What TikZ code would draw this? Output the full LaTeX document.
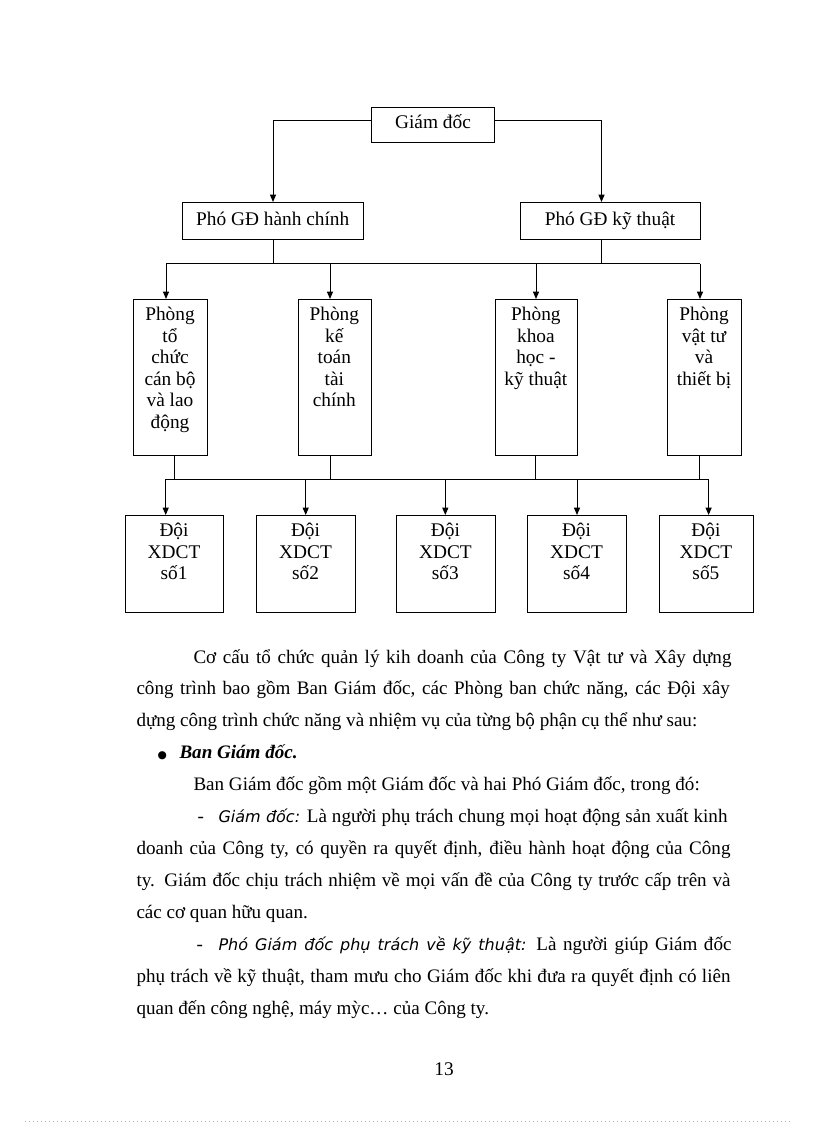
\documentclass[tikz,border=0pt]{standalone}
\usepackage{fontspec}
\setmainfont{Liberation Serif}
\newfontfamily\sansit{DejaVu Sans}
\usetikzlibrary{arrows.meta}
\begin{document}
\begin{tikzpicture}[x=0.75pt,y=-0.75pt,line width=0.75pt,
  box/.style={draw,inner sep=0pt,anchor=north west},
  arr/.style={-{Triangle[length=5.5pt,width=4.5pt]}},
  lbl/.style={font=\fontsize{14.5}{16}\selectfont,inner sep=0pt,anchor=base},
  body/.style={font=\fontsize{14.3}{16}\selectfont,inner sep=0pt,anchor=base west}]
\useasboundingbox (0,0) rectangle (816,1123);

% ---- chart boxes ----
\node[box,minimum width=92.25pt,minimum height=26.25pt] (gd) at (371,107) {};
\node[lbl] (gdt) at (433,129) {Giám đốc};
\node[box,minimum width=135.75pt,minimum height=27.75pt] (pgd1) at (182,202) {};
\node[lbl] (pgd1t) at (272.7,226) {Phó GĐ hành chính};
\node[box,minimum width=135pt,minimum height=27.75pt] (pgd2) at (520,202) {};
\node[lbl] (pgd2t) at (610,226) {Phó GĐ kỹ thuật};

\node[box,minimum width=55.5pt,minimum height=117pt] (p1) at (133,299) {};
\node[box,minimum width=55pt,minimum height=117pt] (p2) at (297.6,299) {};
\node[box,minimum width=61.7pt,minimum height=117pt] (p3) at (494.7,299) {};
\node[box,minimum width=55.5pt,minimum height=117pt] (p4) at (667,299) {};

\foreach \t [count=\i] in {Phòng,tổ,chức,cán bộ,và lao,động}
  \node[lbl] (pa\i) at (170,{320.7+21.5*(\i-1)}) {\t};
\foreach \t [count=\i] in {Phòng,kế,toán,tài,chính}
  \node[lbl] (pb\i) at (334.3,{320.7+21.5*(\i-1)}) {\t};
\foreach \t [count=\i] in {Phòng,khoa,học -,kỹ thuật}
  \node[lbl] (pc\i) at (535.9,{320.7+21.5*(\i-1)}) {\t};
\foreach \t [count=\i] in {Phòng,vật tư,và,thiết bị}
  \node[lbl] (pd\i) at (704,{320.7+21.5*(\i-1)}) {\t};

\node[box,minimum width=73.5pt,minimum height=72.5pt] (d1) at (125,515) {};
\node[box,minimum width=74.25pt,minimum height=72.5pt] (d2) at (256,515) {};
\node[box,minimum width=74pt,minimum height=72.5pt] (d3) at (396,515) {};
\node[box,minimum width=74.25pt,minimum height=72.5pt] (d4) at (527,515) {};
\node[box,minimum width=70.3pt,minimum height=72.5pt] (d5) at (659,515) {};
\foreach \n/\cx in {1/174,2/305.5,3/445.4,4/576.5,5/705.9}{
  \node[lbl] (da\n) at (\cx,536.7) {Đội};
  \node[lbl] (db\n) at (\cx,558) {XDCT};
  \node[lbl] (dc\n) at (\cx,579.3) {số\n};
}

% ---- connectors ----
\draw[arr] ([yshift=3.5pt]gd.west) -| (pgd1.north);
\draw[arr] ([yshift=3.5pt]gd.east) -| ([xshift=-6.75pt]pgd2.north);

\coordinate (t1) at (166,263.7);
\coordinate (t2) at (330,263.7);
\coordinate (t3) at (536,263.7);
\coordinate (t4) at (700,263.7);
\draw (t1) -- (t4);
\draw (pgd1.south) -- (pgd1.south |- t1);
\draw ([xshift=-6.75pt]pgd2.south) -- ([xshift=-6.75pt]pgd2.south |- t1);
\draw[arr] (t1) -- (t1 |- p1.north);
\draw[arr] (t2) -- (t2 |- p2.north);
\draw[arr] (t3) -- (t3 |- p3.north);
\draw[arr] (t4) -- (t4 |- p4.north);

\coordinate (u1) at (174,479.3);
\coordinate (u2) at (330,479.3);
\coordinate (u3) at (535.5,479.3);
\coordinate (u4) at (699.6,479.3);
\draw (u1 |- p1.south) -- (u1);
\draw (u2 |- p2.south) -- (u2);
\draw (u3 |- p3.south) -- (u3);
\draw (u4 |- p4.south) -- (u4);

\coordinate (v1) at (165.7,479.3);
\coordinate (v2) at (305.7,479.3);
\coordinate (v3) at (445.3,479.3);
\coordinate (v4) at (577,479.3);
\coordinate (v5) at (708.6,479.3);
\draw (v1) -- (v5);
\draw[arr] (v1) -- (v1 |- d1.north);
\draw[arr] (v2) -- (v2 |- d2.north);
\draw[arr] (v3) -- (v3 |- d3.north);
\draw[arr] (v4) -- (v4 |- d4.north);
\draw[arr] (v5) -- (v5 |- d5.north);

% ---- body text ----
\node[body] (l1) at (193,663) {\makebox[403.5pt][s]{Cơ cấu tổ chức quản lý kih doanh của Công ty Vật tư và Xây dựng}};
\node[body] (l2) at (136,694.5) {\makebox[445pt][s]{công trình bao gồm Ban Giám đốc, các Phòng ban chức năng, các Đội xây}};
\node[body] (l3) at (136,726) {dựng công trình chức năng và nhiệm vụ của từng bộ phận cụ thể như sau:};
\node[body] (bul) at (157,758.5) {{\sansit\fontsize{8}{8}\selectfont ●}};
\node[body] (l4) at (179,758) {\bfseries\itshape Ban Giám đốc.};
\node[body] (l5) at (193,790) {Ban Giám đốc gồm một Giám đốc và hai Phó Giám đốc, trong đó:};
\node[body] (h1) at (197,822) {-};
\node[body] (l6) at (218,822) {\makebox[381.75pt][s]{{\sansit\itshape\fontsize{12}{14}\selectfont Giám đốc:} Là người phụ trách chung mọi hoạt động sản xuất kinh}};
\node[body] (l7) at (136,854) {\makebox[445.5pt][s]{doanh của Công ty, có quyền ra quyết định, điều hành hoạt động của Công}};
\node[body] (l8) at (136,886) {\makebox[445.5pt][s]{ty. Giám đốc chịu trách nhiệm về mọi vấn đề của Công ty trước cấp trên và}};
\node[body] (l9) at (136,918) {các cơ quan hữu quan.};
\node[body] (h2) at (196,950) {-};
\node[body] (l10) at (218,950) {\makebox[384.75pt][s]{{\sansit\itshape\fontsize{12}{14}\selectfont Phó Giám đốc phụ trách về kỹ thuật:} Là người giúp Giám đốc}};
\node[body] (l11) at (136,982) {\makebox[445.5pt][s]{phụ trách về kỹ thuật, tham mưu cho Giám đốc khi đưa ra quyết định có liên}};
\node[body] (l12) at (136,1014) {quan đến công nghệ, máy mỳc… của Công ty.};

\node[lbl] (pg) at (444,1075) {13};
\draw[gray!60,line width=0.5pt,dash pattern=on 0.75pt off 2.25pt] (25,1121) coordinate (dl) -- (790,1121) coordinate (dr);
\end{tikzpicture}
\end{document}
